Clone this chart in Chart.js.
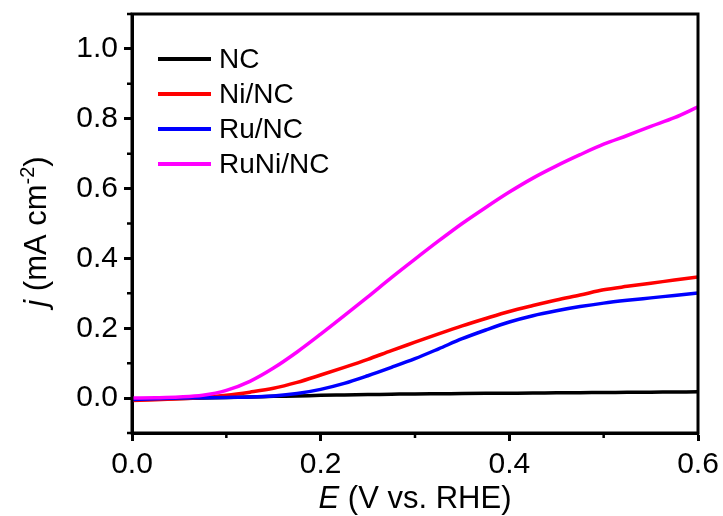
<!DOCTYPE html>
<html>
<head>
<meta charset="utf-8">
<script src="https://cdn.jsdelivr.net/npm/chart.js@4/dist/chart.umd.min.js"></script>
<style>
  html, body { margin: 0; padding: 0; background: #fff; }
  #wrap { width: 723px; height: 516px; }
</style>
</head>
<body>
<div id="wrap"><canvas id="lsv" width="723" height="516"></canvas></div>
<script>
// ---- data ----
const potential = [0, 0.025, 0.05, 0.075, 0.1, 0.125, 0.15, 0.175, 0.2, 0.225, 0.25, 0.275, 0.3,
                   0.325, 0.35, 0.375, 0.4, 0.425, 0.45, 0.475, 0.5, 0.525, 0.55, 0.575, 0.6];

const seriesNames = ['NC', 'Ni/NC', 'Ru/NC', 'RuNi/NC'];
const seriesColors = ['#000000', '#ff0000', '#0000ff', '#ff00ff'];

const ncJ = [-0.004, -0.003, -0.001, 0.000, 0.002, 0.003, 0.005, 0.006, 0.008, 0.009, 0.010, 0.011, 0.012,
             0.0125, 0.013, 0.0135, 0.014, 0.0145, 0.015, 0.0155, 0.016, 0.0165, 0.017, 0.0175, 0.018];
const niJ = [-0.007, -0.005, -0.002, 0.002, 0.008, 0.017, 0.028, 0.045, 0.066, 0.088, 0.111, 0.136, 0.160,
             0.184, 0.207, 0.228, 0.248, 0.265, 0.281, 0.295, 0.310, 0.320, 0.329, 0.338, 0.347];
const ruJ = [-0.004, -0.002, 0.000, 0.001, 0.002, 0.003, 0.006, 0.013, 0.025, 0.042, 0.064, 0.088, 0.113,
             0.141, 0.170, 0.195, 0.218, 0.236, 0.250, 0.262, 0.272, 0.280, 0.287, 0.294, 0.301];
const runiJ = [0.000, 0.001, 0.003, 0.008, 0.022, 0.048, 0.086, 0.132, 0.183, 0.236, 0.290, 0.345, 0.398,
               0.450, 0.500, 0.546, 0.590, 0.630, 0.665, 0.697, 0.727, 0.752, 0.778, 0.803, 0.834];

const xTicks = [0, 0.2, 0.4, 0.6];
const xMinor = [0.1, 0.3, 0.5];
const yTicks = [0, 0.2, 0.4, 0.6, 0.8, 1.0];
const yMinor = [-0.1, 0.1, 0.3, 0.5, 0.7, 0.9, 1.1];

const FONT = "'Liberation Sans', Arial, sans-serif";

function toPoints(ys) {
  return potential.map((x, i) => ({ x: x, y: ys[i] }));
}

// frame, minor ticks, axis titles, legend
const decorations = {
  id: 'decorations',
  afterDraw(chart) {
    const { ctx, chartArea: a, scales } = chart;
    ctx.save();

    // box frame
    ctx.strokeStyle = '#000';
    ctx.lineWidth = 3;
    ctx.strokeRect(a.left, a.top, a.right - a.left, a.bottom - a.top);

    // minor ticks
    ctx.lineWidth = 2.5;
    ctx.beginPath();
    xMinor.forEach(v => {
      const px = scales.x.getPixelForValue(v);
      ctx.moveTo(px, a.bottom);
      ctx.lineTo(px, a.bottom + 5);
    });
    yMinor.forEach(v => {
      const py = scales.y.getPixelForValue(v);
      ctx.moveTo(a.left, py);
      ctx.lineTo(a.left - 5, py);
    });
    ctx.stroke();

    // x title: E (V vs. RHE)
    ctx.fillStyle = '#000';
    ctx.textBaseline = 'alphabetic';
    ctx.textAlign = 'left';
    const xPart1 = 'E';
    const xPart2 = ' (V vs. RHE)';
    ctx.font = 'italic 31px ' + FONT;
    const w1 = ctx.measureText(xPart1).width;
    ctx.font = '31px ' + FONT;
    const w2 = ctx.measureText(xPart2).width;
    let sx = (a.left + a.right) / 2 - (w1 + w2) / 2;
    ctx.font = 'italic 31px ' + FONT;
    ctx.fillText(xPart1, sx, 508);
    ctx.font = '31px ' + FONT;
    ctx.fillText(xPart2, sx + w1, 508);

    // y title: j (mA cm-2)
    ctx.save();
    ctx.translate(46, (a.top + a.bottom) / 2 + 8);
    ctx.rotate(-Math.PI / 2);
    const pA = 'j', pB = ' (mA cm', pSup = '-2', pC = ')';
    ctx.font = 'italic 31px ' + FONT;
    const wa = ctx.measureText(pA).width;
    ctx.font = '31px ' + FONT;
    const wb = ctx.measureText(pB).width;
    const wc = ctx.measureText(pC).width;
    ctx.font = '20px ' + FONT;
    const ws = ctx.measureText(pSup).width;
    let cx = -(wa + wb + ws + wc) / 2;
    ctx.font = 'italic 31px ' + FONT;
    ctx.fillText(pA, cx, 0); cx += wa;
    ctx.font = '31px ' + FONT;
    ctx.fillText(pB, cx, 0); cx += wb;
    ctx.font = '20px ' + FONT;
    ctx.fillText(pSup, cx, -12); cx += ws;
    ctx.font = '31px ' + FONT;
    ctx.fillText(pC, cx, 0);
    ctx.restore();

    // legend
    ctx.font = '28px ' + FONT;
    ctx.textBaseline = 'middle';
    chart.data.datasets.forEach((ds, i) => {
      const ly = a.top + 45 + i * 35;
      ctx.strokeStyle = ds.borderColor;
      ctx.lineWidth = 4;
      ctx.beginPath();
      ctx.moveTo(a.left + 26, ly);
      ctx.lineTo(a.left + 79, ly);
      ctx.stroke();
      ctx.fillStyle = '#000';
      ctx.fillText(ds.label, a.left + 87, ly + 1);
    });

    ctx.restore();
  }
};

const allJ = [ncJ, niJ, ruJ, runiJ];

new Chart(document.getElementById('lsv'), {
  type: 'line',
  data: {
    datasets: seriesNames.map((name, i) => ({
      label: name,
      data: toPoints(allJ[i]),
      borderColor: seriesColors[i],
      backgroundColor: seriesColors[i],
      borderWidth: 3.5,
      pointRadius: 0,
      cubicInterpolationMode: 'monotone',
      fill: false,
      order: seriesNames.length - 1 - i,
    })),
  },
  options: {
    responsive: false,
    devicePixelRatio: 1,
    animation: false,
    layout: { padding: { top: 14, right: 25, left: 0, bottom: 0 } },
    plugins: {
      legend: { display: false },
      tooltip: { enabled: false },
    },
    scales: {
      x: {
        type: 'linear',
        min: 0,
        max: 0.6,
        afterFit: (s) => { s.height = 83; s.paddingLeft = 0; s.paddingRight = 0; },
        afterBuildTicks: (s) => { s.ticks = xTicks.map(v => ({ value: v })); },
        grid: {
          drawOnChartArea: false,
          tickLength: 8,
          tickWidth: 3,
          tickColor: '#000',
        },
        border: { display: true, color: '#000', width: 3 },
        ticks: {
          color: '#000',
          padding: 6,
          maxRotation: 0,
          font: { family: FONT, size: 30 },
          callback: (v) => Number(v).toFixed(1),
        },
      },
      y: {
        type: 'linear',
        min: -0.1,
        max: 1.1,
        afterFit: (s) => { s.width = 132; s.paddingTop = 0; s.paddingBottom = 0; },
        afterBuildTicks: (s) => { s.ticks = yTicks.map(v => ({ value: v })); },
        grid: {
          drawOnChartArea: false,
          tickLength: 8,
          tickWidth: 3,
          tickColor: '#000',
        },
        border: { display: true, color: '#000', width: 3 },
        ticks: {
          color: '#000',
          padding: 6,
          font: { family: FONT, size: 30 },
          callback: (v) => Number(v).toFixed(1),
        },
      },
    },
  },
  plugins: [decorations],
});
</script>
</body>
</html>
